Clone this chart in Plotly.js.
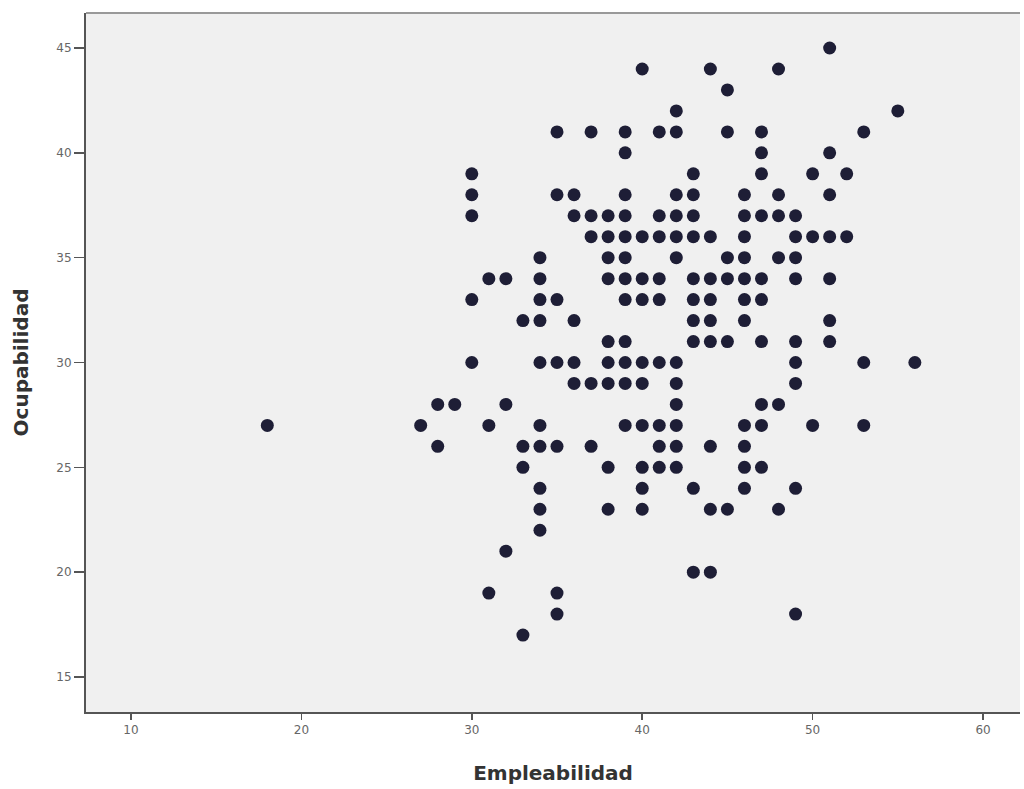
<!DOCTYPE html>
<html>
<head>
<meta charset="utf-8">
<script src="https://cdn.plot.ly/plotly-3.0.1.min.js"></script>
<style>html,body{margin:0;padding:0;background:#fff;}#chart{width:1024px;height:789px;}</style>
</head>
<body>
<div id="chart"></div>
<script>
// Ocupabilidad levels (y) and the Empleabilidad values (x) observed at each level
const ocupLevels = [45, 44, 43, 42, 41, 40, 39, 38, 37, 36, 35, 34, 33, 32, 31, 30, 29, 28, 27, 26, 25, 24, 23, 22, 21, 20, 19, 18, 17];
const emplAt45 = [51];
const emplAt44 = [40, 44, 48];
const emplAt43 = [45];
const emplAt42 = [42, 55];
const emplAt41 = [35, 37, 39, 41, 42, 45, 47, 53];
const emplAt40 = [39, 47, 51];
const emplAt39 = [30, 43, 47, 50, 52];
const emplAt38 = [30, 35, 36, 39, 42, 43, 46, 48, 51];
const emplAt37 = [30, 36, 37, 38, 39, 41, 42, 43, 46, 47, 48, 49];
const emplAt36 = [37, 38, 39, 40, 41, 42, 43, 44, 46, 49, 50, 51, 52];
const emplAt35 = [34, 38, 39, 42, 45, 46, 48, 49];
const emplAt34 = [31, 32, 34, 38, 39, 40, 41, 43, 44, 45, 46, 47, 49, 51];
const emplAt33 = [30, 34, 35, 39, 40, 41, 43, 44, 46, 47];
const emplAt32 = [33, 34, 36, 43, 44, 46, 51];
const emplAt31 = [38, 39, 43, 44, 45, 47, 49, 51];
const emplAt30 = [30, 34, 35, 36, 38, 39, 40, 41, 42, 49, 53, 56];
const emplAt29 = [36, 37, 38, 39, 40, 42, 49];
const emplAt28 = [28, 29, 32, 42, 47, 48];
const emplAt27 = [18, 27, 31, 34, 39, 40, 41, 42, 46, 47, 50, 53];
const emplAt26 = [28, 33, 34, 35, 37, 41, 42, 44, 46];
const emplAt25 = [33, 38, 40, 41, 42, 46, 47];
const emplAt24 = [34, 40, 43, 46, 49];
const emplAt23 = [34, 38, 40, 44, 45, 48];
const emplAt22 = [34];
const emplAt21 = [32];
const emplAt20 = [43, 44];
const emplAt19 = [31, 35];
const emplAt18 = [35, 49];
const emplAt17 = [33];

const emplByLevel = [emplAt45, emplAt44, emplAt43, emplAt42, emplAt41, emplAt40, emplAt39, emplAt38, emplAt37, emplAt36,
  emplAt35, emplAt34, emplAt33, emplAt32, emplAt31, emplAt30, emplAt29, emplAt28, emplAt27, emplAt26,
  emplAt25, emplAt24, emplAt23, emplAt22, emplAt21, emplAt20, emplAt19, emplAt18, emplAt17];

const xTicks = [10, 20, 30, 40, 50, 60];
const yTicks = [15, 20, 25, 30, 35, 40, 45];
const xTitle = 'Empleabilidad';
const yTitle = 'Ocupabilidad';

const xs = [], ys = [];
ocupLevels.forEach((lvl, i) => {
  emplByLevel[i].forEach(v => { xs.push(v); ys.push(lvl); });
});

const trace = {
  type: 'scatter', mode: 'markers', x: xs, y: ys,
  marker: {size: 13, color: '#1e1e36', line: {width: 0}},
  hoverinfo: 'x+y'
};

const tickFont = {family: 'DejaVu Sans, Arial, sans-serif', size: 12, color: '#666'};
const titleFont = {family: 'DejaVu Sans, Arial, sans-serif', size: 20, color: '#333', weight: 'bold'};

const layout = {
  width: 1024, height: 789,
  margin: {l: 86, r: 4, t: 13, b: 77},
  paper_bgcolor: '#ffffff',
  plot_bgcolor: '#f0f0f0',
  showlegend: false,
  xaxis: {
    range: [7.36, 62.17], tickvals: xTicks, ticktext: xTicks.map(String),
    ticks: 'outside', ticklen: 6, tickwidth: 1.5, tickcolor: '#555',
    showgrid: false, zeroline: false,
    showline: true, linecolor: '#555', linewidth: 2,
    tickfont: tickFont,
    title: {text: '<b>' + xTitle + '</b>', font: titleFont, standoff: 30}
  },
  yaxis: {
    range: [13.33, 46.67], tickvals: yTicks, ticktext: yTicks.map(String),
    ticks: 'outside', ticklen: 10, tickwidth: 1.5, tickcolor: '#555',
    showgrid: false, zeroline: false,
    showline: true, linecolor: '#555', linewidth: 2,
    tickfont: tickFont,
    title: {text: '<b>' + yTitle + '</b>', font: titleFont, standoff: 22}
  },
  shapes: [
    {type: 'line', xref: 'paper', yref: 'paper', x0: 0, x1: 1, y0: 1, y1: 1,
     line: {color: '#999', width: 2}}
  ]
};

Plotly.newPlot('chart', [trace], layout, {displayModeBar: false, staticPlot: true});
</script>
</body>
</html>
